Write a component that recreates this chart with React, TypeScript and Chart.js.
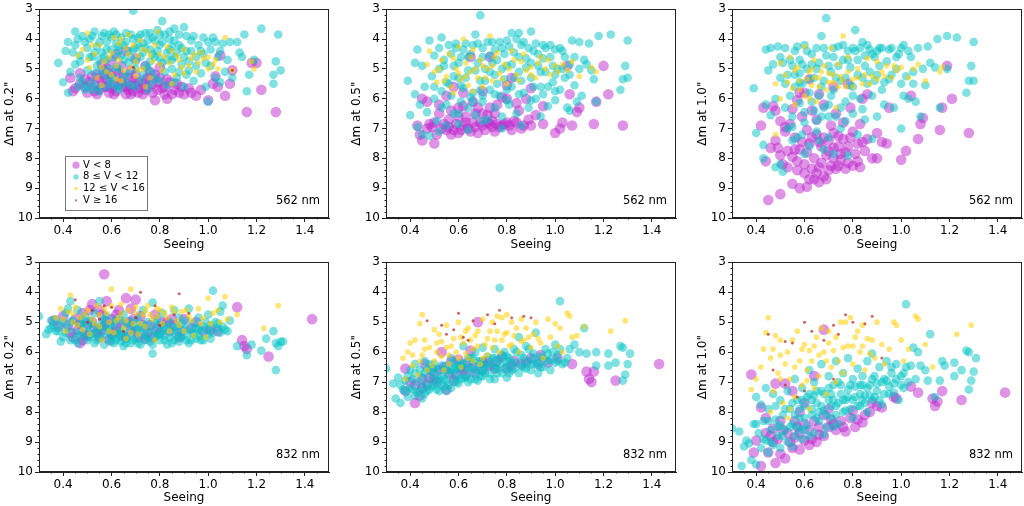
import { useEffect, useRef } from "react";
import Chart from "chart.js/auto";

Chart.defaults.font.family = "DejaVu Sans";

type Pt = [number, number];

const X_MIN = 0.3;
const X_MAX = 1.5;
const Y_MIN = 3;
const Y_MAX = 10;
const X_TICKS = [0.4, 0.6, 0.8, 1.0, 1.2, 1.4];
const X_TICK_LABELS = ["0.4", "0.6", "0.8", "1.0", "1.2", "1.4"];
const Y_TICKS = [3, 4, 5, 6, 7, 8, 9, 10];
const Y_TICK_LABELS = ["3", "4", "5", "6", "7", "8", "9", "10"];
const LEGEND_LABELS = ["V < 8", "8 ≤ V < 12", "12 ≤ V < 16", "V ≥ 16"];

// 562 nm, 0.2"
const p562at02_lt8: Pt[] = [[0.43,5.3],[0.45,5.65],[0.47,5.5],[0.49,5.6],[0.5,5.8],[0.52,5.25],[0.53,5.55],[0.54,5.2],[0.55,5.7],[0.56,5.4],[0.57,5.05],[0.58,5.6],[0.59,5.8],[0.6,5.3],[0.61,5.55],[0.62,5.75],[0.63,5.15],[0.64,5.45],[0.65,5.6],[0.66,5.85],[0.67,5.3],[0.68,5.55],[0.69,5.75],[0.7,5.2],[0.71,5.45],[0.72,5.65],[0.73,5.85],[0.74,5.35],[0.75,5.6],[0.76,5.1],[0.77,5.5],[0.78,6.05],[0.79,5.7],[0.8,5.3],[0.82,5.6],[0.83,6.0],[0.84,5.45],[0.86,5.7],[0.88,5.8],[0.9,5.85],[0.92,5.65],[0.95,5.9],[1.0,6.05],[1.02,5.5],[1.03,5.25],[1.04,5.6],[1.05,4.55],[1.07,5.9],[1.09,5.5],[1.1,5.05],[1.16,6.45],[1.18,4.8],[1.2,4.8],[1.22,5.7],[1.28,6.45],[0.6,4.75],[0.62,4.5],[0.66,4.4],[0.7,4.65],[0.64,4.9],[0.56,4.85],[0.74,4.9],[0.8,4.95],[0.58,5.0],[0.68,5.05],
  [0.51,5.45],[0.53,5.75],[0.55,5.3],[0.57,5.6],[0.59,5.15],[0.61,5.85],[0.63,5.5],[0.65,5.25],[0.67,5.7],[0.69,5.4],[0.71,5.8],[0.73,5.5],[0.75,5.3],[0.77,5.8],[0.79,5.45],[0.81,5.65],[0.83,5.35],[0.85,5.85],[0.87,5.5],[0.54,5.85],[0.58,5.35],[0.62,5.05],[0.66,5.6],[0.7,5.55],[0.74,5.7],[0.78,5.2],[0.82,5.85],[0.89,5.6],[0.93,5.8],[0.97,5.7],[0.47,5.15],[0.49,5.35],[0.44,5.75],[0.6,5.65],[0.68,5.85]];
const p562at02_8to12: Pt[] = [[0.38,4.8],[0.4,5.45],[0.41,4.4],[0.42,5.8],[0.42,4.1],[0.43,5.1],[0.44,4.45],[0.45,3.75],[0.45,4.85],[0.46,4.0],[0.47,5.3],[0.47,4.55],[0.48,3.9],[0.49,5.7],[0.5,4.3],[0.5,5.05],[0.51,4.0],[0.52,4.6],[0.52,5.45],[0.53,3.75],[0.54,4.25],[0.54,4.9],[0.55,5.75],[0.56,3.9],[0.56,4.45],[0.57,5.2],[0.58,4.1],[0.58,4.7],[0.59,3.85],[0.6,5.5],[0.6,4.35],[0.61,3.75],[0.62,4.95],[0.62,4.15],[0.63,5.7],[0.64,3.95],[0.64,4.55],[0.65,5.25],[0.66,4.1],[0.67,4.8],[0.68,3.85],[0.68,5.55],[0.69,3.05],[0.69,4.35],[0.7,5.0],[0.71,3.95],[0.72,4.6],[0.72,5.4],[0.73,4.15],[0.74,3.8],[0.74,4.9],[0.75,5.7],[0.76,4.35],[0.77,3.95],[0.77,5.15],[0.78,4.6],[0.79,3.7],[0.8,4.2],[0.8,5.4],[0.81,3.4],[0.81,4.8],[0.82,3.85],[0.83,4.45],[0.83,5.55],[0.84,4.0],[0.85,5.0],[0.86,3.65],[0.86,4.6],[0.87,5.3],[0.88,4.2],[0.89,4.85],[0.9,3.6],[0.9,5.6],[0.91,4.4],[0.92,5.05],[0.93,4.05],[0.94,5.4],[0.95,4.6],[0.96,4.2],[0.97,5.15],[0.98,4.5],[0.99,5.6],[1.0,4.1],[1.0,6.1],[1.01,4.9],[1.02,3.95],[1.03,5.3],[1.04,4.6],[1.05,5.45],[1.06,4.15],[1.07,5.1],[1.08,4.7],[1.09,4.1],[1.1,5.3],[1.12,4.1],[1.13,4.45],[1.14,4.6],[1.15,3.85],[1.16,5.75],[1.17,5.2],[1.19,4.7],[1.22,3.65],[1.27,5.5],[1.27,5.2],[1.28,4.75],[1.29,3.85],[1.3,5.05],[0.5,5.6],[0.46,5.6],[0.53,5.15],[0.59,5.35],[0.66,5.45],[0.7,4.3],[0.76,4.75],[0.63,4.25],[0.57,4.6],[0.85,4.25],[0.92,4.75],
  [0.45,4.2],[0.47,4.75],[0.48,5.45],[0.49,4.1],[0.51,4.6],[0.52,3.9],[0.53,4.45],[0.54,5.6],[0.55,4.1],[0.55,4.7],[0.56,5.05],[0.57,3.8],[0.58,4.35],[0.59,5.0],[0.6,3.95],[0.61,4.6],[0.61,5.3],[0.62,3.85],[0.63,4.4],[0.63,5.0],[0.64,5.55],[0.65,4.2],[0.65,4.7],[0.66,3.8],[0.67,4.4],[0.67,5.15],[0.68,4.6],[0.69,4.0],[0.7,4.75],[0.7,5.6],[0.71,4.2],[0.72,3.85],[0.73,4.45],[0.73,5.2],[0.74,4.3],[0.75,4.05],[0.75,5.0],[0.76,3.8],[0.77,4.5],[0.78,4.05],[0.78,5.35],[0.79,4.4],[0.8,3.85],[0.8,4.65],[0.81,4.1],[0.82,5.1],[0.83,4.7],[0.84,3.75],[0.84,4.35],[0.85,4.7],[0.86,4.05],[0.87,4.45],[0.88,5.1],[0.88,3.85],[0.89,4.3],[0.9,4.6],[0.91,3.9],[0.91,5.2],[0.93,4.4],[0.94,3.9],[0.95,4.9],[0.97,4.4],[0.98,3.95],[0.99,4.8],[1.01,4.35],[1.03,4.1],[1.05,4.4],[0.52,5.7],[0.58,5.6],[0.62,5.6],[0.76,5.5],[0.86,5.45]];
const p562at02_12to16: Pt[] = [[0.46,4.55],[0.48,4.35],[0.5,3.8],[0.51,4.95],[0.53,4.5],[0.54,5.3],[0.55,4.2],[0.57,4.75],[0.58,5.1],[0.6,4.45],[0.61,3.95],[0.62,5.35],[0.63,4.7],[0.65,5.05],[0.66,4.3],[0.67,3.85],[0.68,4.95],[0.7,5.25],[0.71,4.55],[0.72,4.05],[0.73,5.0],[0.75,4.4],[0.76,5.3],[0.77,4.75],[0.79,3.75],[0.8,4.5],[0.81,5.05],[0.83,4.25],[0.84,4.8],[0.86,5.2],[0.87,4.55],[0.89,4.95],[0.9,4.35],[0.92,4.9],[0.94,4.5],[0.96,4.8],[0.98,4.65],[1.0,5.0],[1.02,4.85],[1.04,5.0],[1.07,3.95],[1.1,5.05],[1.18,4.75],[1.19,5.0],[0.56,5.55],[0.74,5.6],[0.85,5.5],[0.64,4.0],
  [0.5,4.7],[0.52,4.2],[0.56,4.95],[0.59,4.6],[0.6,5.2],[0.63,4.15],[0.64,5.4],[0.67,4.5],[0.69,4.2],[0.71,5.05],[0.73,4.35],[0.76,4.55],[0.78,4.2],[0.8,4.85],[0.82,4.6],[0.85,4.4],[0.88,4.7],[0.9,5.15],[0.93,4.65],[0.95,5.1],[0.97,4.45],[1.0,4.6],[1.03,4.7],[0.62,4.9],[0.7,4.75]];
const p562at02_ge16: Pt[] = [[1.1,5.05],[0.69,4.95]];

// 562 nm, 0.5"
const p562at05_lt8: Pt[] = [[0.45,7.4],[0.5,7.5],[0.44,7.2],[0.43,6.9],[0.48,6.85],[0.5,6.8],[0.53,7.0],[0.55,7.05],[0.57,7.2],[0.6,7.15],[0.62,6.9],[0.64,7.0],[0.66,6.8],[0.68,7.15],[0.7,6.9],[0.72,6.8],[0.74,6.95],[0.76,6.85],[0.78,6.9],[0.8,6.8],[0.82,7.05],[0.84,6.8],[0.87,6.9],[0.89,6.7],[0.9,6.9],[0.92,6.55],[0.95,6.85],[1.0,7.15],[1.02,7.0],[1.03,6.8],[1.07,6.9],[1.1,6.3],[1.09,6.45],[1.16,6.85],[1.17,6.1],[1.22,5.85],[1.28,6.9],[1.2,4.9],[1.05,4.9],[1.06,5.85],[0.95,6.25],[0.88,6.0],[0.82,5.3],[0.78,5.95],[0.73,6.3],[0.7,6.5],[0.66,6.1],[0.62,5.8],[0.6,6.3],[0.58,5.6],[0.55,5.9],[0.52,6.5],[0.47,6.1],[0.45,6.0],[0.65,4.6],[0.73,4.6],[0.6,6.6],[0.56,6.7],[0.67,6.5],[0.75,6.5],[0.85,6.4],[0.9,5.65],[0.8,5.55],[0.7,5.75],
  [0.47,7.0],[0.49,6.95],[0.51,7.2],[0.54,6.85],[0.56,6.95],[0.58,7.05],[0.59,6.85],[0.61,7.05],[0.63,6.8],[0.65,7.1],[0.67,6.95],[0.69,6.8],[0.71,7.05],[0.73,6.85],[0.75,7.1],[0.77,6.95],[0.79,6.85],[0.81,6.9],[0.83,6.75],[0.86,7.0],[0.52,6.2],[0.57,6.4],[0.63,6.6],[0.68,6.3],[0.72,6.55],[0.76,6.2],[0.8,6.0],[0.84,6.15],[0.62,6.25],[0.74,6.75]];
const p562at05_8to12: Pt[] = [[0.39,5.4],[0.4,6.55],[0.42,5.85],[0.42,4.8],[0.43,6.95],[0.43,4.35],[0.44,6.2],[0.45,7.2],[0.45,4.9],[0.46,5.6],[0.47,6.45],[0.48,7.25],[0.48,4.05],[0.49,5.25],[0.5,6.0],[0.5,4.55],[0.51,6.75],[0.52,5.0],[0.53,3.95],[0.53,6.3],[0.54,4.7],[0.55,5.45],[0.55,6.9],[0.56,4.2],[0.57,5.9],[0.58,4.9],[0.58,6.5],[0.59,4.3],[0.6,5.3],[0.61,6.1],[0.61,4.6],[0.62,5.65],[0.63,4.15],[0.64,6.3],[0.64,5.05],[0.65,4.5],[0.66,5.8],[0.67,3.85],[0.67,6.55],[0.68,4.8],[0.69,3.2],[0.69,5.4],[0.7,6.1],[0.7,4.3],[0.71,5.0],[0.72,6.7],[0.73,4.55],[0.73,5.7],[0.74,4.1],[0.75,6.3],[0.75,5.2],[0.76,4.7],[0.77,5.9],[0.78,4.3],[0.78,6.6],[0.79,5.35],[0.8,4.05],[0.8,4.9],[0.81,6.2],[0.82,3.8],[0.82,5.6],[0.83,4.45],[0.84,6.5],[0.85,3.8],[0.85,5.1],[0.86,4.2],[0.87,5.8],[0.88,4.65],[0.89,6.3],[0.9,3.75],[0.9,5.3],[0.91,4.4],[0.92,6.0],[0.93,4.9],[0.94,5.6],[0.95,4.2],[0.96,5.1],[0.97,6.25],[0.98,4.6],[0.99,5.45],[1.0,4.35],[1.0,6.05],[1.01,5.0],[1.02,5.7],[1.03,4.4],[1.04,5.3],[1.05,6.3],[1.06,4.85],[1.07,4.05],[1.08,5.55],[1.09,6.1],[1.1,4.1],[1.11,5.9],[1.12,4.7],[1.13,4.85],[1.14,4.15],[1.15,5.05],[1.16,5.35],[1.17,6.1],[1.18,3.9],[1.23,3.85],[1.27,5.7],[1.28,5.35],[1.29,4.9],[1.3,4.05],[1.3,5.3],[0.86,6.9],[0.78,7.0],[0.64,7.05],[0.52,7.1],[0.6,6.85],[0.7,6.75],[0.94,6.6],[1.06,6.4],
  [0.5,5.6],[0.52,4.3],[0.53,5.75],[0.54,4.9],[0.56,5.5],[0.57,4.5],[0.58,5.25],[0.59,4.15],[0.6,4.8],[0.61,5.55],[0.62,4.35],[0.63,5.3],[0.64,4.6],[0.65,5.95],[0.66,4.2],[0.67,5.05],[0.68,4.15],[0.69,5.7],[0.7,4.6],[0.71,5.4],[0.72,4.1],[0.73,5.1],[0.74,4.8],[0.75,4.35],[0.76,5.5],[0.77,4.1],[0.78,5.0],[0.79,4.5],[0.8,5.7],[0.81,4.25],[0.82,4.85],[0.83,5.3],[0.84,4.0],[0.85,4.6],[0.86,5.4],[0.87,4.1],[0.88,4.95],[0.89,4.3],[0.9,4.8],[0.91,5.6],[0.92,4.15],[0.93,4.5],[0.94,5.1],[0.95,4.65],[0.96,4.3],[0.97,5.6],[0.98,4.2],[0.99,4.9],[1.0,5.2],[1.02,4.3],[1.03,5.0],[1.04,4.6],[1.06,5.2],[1.08,4.6],[1.1,5.0],[0.55,6.2],[0.6,6.5],[0.66,6.1],[0.7,5.9],[0.75,5.85],[0.8,6.05],[0.85,5.85],[0.9,6.05],[0.95,5.85],[1.0,5.75]];
const p562at05_12to16: Pt[] = [[0.47,4.85],[0.48,4.4],[0.5,5.1],[0.51,5.45],[0.53,4.7],[0.55,5.25],[0.56,4.5],[0.57,5.6],[0.59,5.0],[0.6,4.25],[0.61,5.35],[0.62,4.0],[0.63,4.8],[0.64,5.55],[0.65,5.1],[0.66,4.35],[0.68,5.3],[0.69,4.7],[0.7,5.6],[0.72,5.0],[0.73,3.9],[0.74,5.4],[0.75,4.6],[0.77,5.15],[0.79,4.85],[0.8,5.5],[0.82,4.4],[0.84,5.2],[0.86,4.75],[0.88,5.05],[0.9,4.95],[0.92,5.3],[0.94,4.6],[0.96,5.0],[0.98,5.2],[1.0,4.9],[1.03,4.85],[1.05,5.05],[1.07,4.75],[1.1,5.25],[1.15,4.95],[1.17,5.1],[0.58,5.8],[0.66,5.75],
  [0.52,5.0],[0.54,5.4],[0.58,4.65],[0.6,5.15],[0.63,5.25],[0.65,4.6],[0.67,5.0],[0.7,4.9],[0.71,5.3],[0.74,4.9],[0.76,4.45],[0.78,5.35],[0.81,5.0],[0.83,4.7],[0.85,5.4],[0.87,4.5],[0.9,5.2],[0.93,4.8],[0.97,4.7],[1.01,5.1]];
const p562at05_ge16: Pt[] = [];

// 562 nm, 1.0"
const p562at10_lt8: Pt[] = [[0.42,6.9],[0.43,6.3],[0.44,8.1],[0.45,9.4],[0.46,7.65],[0.48,6.4],[0.49,7.65],[0.5,9.2],[0.5,6.75],[0.51,8.2],[0.52,7.1],[0.53,7.75],[0.54,6.85],[0.55,8.85],[0.55,7.95],[0.56,7.3],[0.57,6.05],[0.57,8.4],[0.58,9.0],[0.58,7.7],[0.59,6.6],[0.6,8.2],[0.6,5.8],[0.61,7.05],[0.62,8.7],[0.62,7.5],[0.63,6.4],[0.64,8.0],[0.64,8.7],[0.65,7.2],[0.65,6.7],[0.66,8.3],[0.67,7.6],[0.68,8.6],[0.68,6.2],[0.69,7.9],[0.7,7.4],[0.7,8.4],[0.71,6.9],[0.72,8.0],[0.72,7.65],[0.73,6.5],[0.74,8.25],[0.74,7.25],[0.75,7.85],[0.76,6.8],[0.77,8.35],[0.78,7.6],[0.79,6.3],[0.8,8.25],[0.8,7.1],[0.82,7.5],[0.83,6.85],[0.82,8.1],[0.84,7.45],[0.84,6.0],[0.86,7.35],[0.88,8.0],[0.9,8.0],[0.9,7.15],[0.92,7.45],[0.94,7.5],[1.0,8.05],[1.02,7.75],[1.04,5.9],[1.07,7.35],[1.08,6.85],[1.09,6.65],[1.16,7.05],[1.17,6.3],[1.19,4.9],[1.21,6.0],[1.28,7.15],[0.72,5.6],[0.66,5.85],[0.62,5.35],[0.58,5.8],[0.55,6.35],[0.52,6.95],[0.47,6.25],[0.78,5.5],[0.86,5.85],[0.95,6.3],
  [0.56,7.7],[0.57,8.1],[0.59,7.45],[0.6,8.5],[0.61,7.8],[0.63,8.35],[0.63,7.3],[0.65,8.5],[0.66,7.45],[0.67,8.15],[0.68,7.3],[0.69,8.7],[0.7,7.75],[0.71,8.25],[0.72,7.15],[0.73,8.35],[0.74,7.6],[0.75,8.05],[0.76,7.35],[0.77,7.8],[0.78,8.15],[0.79,7.3],[0.81,7.85],[0.83,8.3],[0.85,7.75],[0.61,8.95],[0.66,8.8],[0.53,8.3],[0.5,7.9],[0.48,7.4]];
const p562at10_8to12: Pt[] = [[0.39,5.65],[0.4,7.15],[0.43,7.55],[0.43,8.0],[0.44,6.2],[0.44,4.35],[0.45,5.05],[0.46,6.55],[0.46,4.3],[0.47,4.85],[0.48,8.3],[0.48,6.0],[0.49,4.25],[0.5,8.2],[0.5,5.3],[0.51,8.45],[0.51,4.8],[0.52,6.3],[0.52,5.5],[0.53,7.0],[0.54,4.7],[0.54,5.9],[0.55,6.6],[0.56,4.4],[0.56,5.2],[0.57,7.3],[0.58,4.7],[0.58,6.15],[0.59,5.5],[0.6,4.2],[0.6,6.8],[0.61,5.0],[0.62,5.8],[0.62,7.6],[0.63,4.5],[0.64,6.4],[0.64,5.3],[0.65,7.1],[0.66,4.8],[0.66,5.9],[0.67,3.9],[0.67,6.6],[0.68,5.4],[0.69,3.3],[0.69,4.55],[0.7,6.2],[0.7,7.3],[0.71,5.1],[0.72,4.3],[0.72,5.7],[0.73,6.6],[0.74,4.9],[0.75,5.4],[0.75,7.0],[0.76,4.2],[0.77,6.1],[0.78,7.9],[0.78,4.7],[0.79,5.55],[0.8,6.5],[0.81,3.7],[0.81,4.4],[0.82,5.2],[0.83,6.0],[0.84,4.1],[0.85,4.9],[0.85,6.7],[0.86,5.5],[0.87,4.35],[0.88,7.35],[0.88,5.9],[0.89,4.6],[0.9,6.6],[0.9,5.2],[0.91,4.3],[0.92,5.7],[0.93,6.2],[0.94,4.75],[0.95,5.35],[0.96,4.3],[0.97,6.3],[0.98,5.0],[0.99,4.5],[1.0,7.0],[1.0,5.5],[1.01,4.2],[1.02,5.25],[1.03,6.0],[1.04,4.6],[1.05,5.1],[1.06,6.1],[1.07,4.3],[1.08,6.6],[1.09,5.0],[1.1,5.55],[1.11,4.25],[1.12,4.8],[1.14,4.95],[1.15,4.0],[1.16,6.3],[1.19,3.9],[1.19,5.0],[1.23,3.95],[1.27,5.8],[1.28,5.4],[1.29,4.9],[1.3,4.1],[1.3,5.4],[0.55,7.4],[0.6,7.85],[0.68,7.7],[0.72,7.85],[0.82,7.2],[0.58,5.15],[0.8,5.9],[0.63,4.85],
  [0.5,4.6],[0.52,4.3],[0.53,5.2],[0.55,4.9],[0.56,5.6],[0.57,4.25],[0.58,5.45],[0.59,4.85],[0.61,4.4],[0.62,5.35],[0.63,6.1],[0.65,4.3],[0.65,5.0],[0.67,5.6],[0.68,4.3],[0.68,6.3],[0.7,4.9],[0.71,5.9],[0.72,4.6],[0.73,5.3],[0.74,4.25],[0.75,6.3],[0.76,4.7],[0.77,5.3],[0.78,4.4],[0.79,4.95],[0.8,4.3],[0.8,5.6],[0.82,4.7],[0.83,4.3],[0.84,5.3],[0.85,4.55],[0.86,4.2],[0.87,5.1],[0.88,4.5],[0.89,5.4],[0.9,4.4],[0.91,4.9],[0.92,4.3],[0.93,5.45],[0.95,4.35],[0.96,5.2],[0.98,4.6],[1.0,4.3],[1.01,5.9],[1.03,4.4],[1.05,5.5],[0.55,6.95],[0.6,6.45],[0.65,6.75],[0.7,6.6],[0.77,6.75],[0.84,6.35],[0.59,7.2],[0.66,7.4]];
const p562at10_12to16: Pt[] = [[0.48,5.5],[0.5,4.8],[0.5,6.0],[0.52,5.2],[0.54,4.6],[0.55,5.65],[0.56,6.2],[0.57,4.95],[0.58,5.4],[0.6,4.25],[0.6,5.9],[0.62,5.1],[0.63,5.55],[0.64,4.7],[0.65,6.1],[0.66,5.3],[0.68,4.9],[0.69,5.7],[0.7,5.15],[0.71,4.3],[0.72,5.45],[0.73,6.3],[0.74,4.85],[0.75,5.25],[0.76,3.9],[0.77,5.6],[0.78,4.6],[0.8,5.35],[0.82,5.0],[0.84,5.5],[0.86,4.65],[0.88,5.25],[0.9,4.75],[0.92,5.1],[0.94,4.9],[0.96,5.3],[0.98,5.05],[1.0,4.95],[1.03,5.3],[1.05,5.0],[1.07,4.85],[1.1,5.4],[1.16,5.1],[1.17,4.95],[0.48,7.2],[0.62,6.0],
  [0.53,5.45],[0.56,5.05],[0.58,5.7],[0.61,5.35],[0.63,5.0],[0.66,5.6],[0.67,5.1],[0.7,5.45],[0.72,5.2],[0.74,5.6],[0.76,5.4],[0.78,5.1],[0.8,5.6],[0.82,5.3],[0.85,5.2],[0.87,5.5],[0.9,5.35],[0.93,5.25],[0.97,4.9],[0.64,5.3]];
const p562at10_ge16: Pt[] = [];

// 832 nm, 0.2"
const p832at02_lt8: Pt[] = [[0.36,4.95],[0.38,5.15],[0.4,4.8],[0.42,5.1],[0.44,5.5],[0.45,4.9],[0.46,5.25],[0.47,5.7],[0.48,4.7],[0.49,5.4],[0.5,5.05],[0.51,4.6],[0.52,4.4],[0.53,5.2],[0.55,5.5],[0.56,4.75],[0.57,3.4],[0.57,5.1],[0.58,4.3],[0.59,5.6],[0.6,4.9],[0.61,5.3],[0.63,4.6],[0.64,5.45],[0.66,4.2],[0.67,5.0],[0.68,4.55],[0.7,4.25],[0.7,5.3],[0.72,4.8],[0.74,5.55],[0.76,5.1],[0.78,4.75],[0.8,5.35],[0.83,5.0],[0.85,4.9],[0.88,5.5],[0.9,4.9],[0.93,5.2],[0.95,5.0],[0.98,5.3],[1.01,5.25],[1.04,5.3],[1.12,4.5],[1.14,5.6],[1.15,5.8],[1.16,5.9],[1.25,6.15],[1.43,4.9],
  [0.43,5.35],[0.47,5.05],[0.5,5.45],[0.52,5.0],[0.54,5.35],[0.56,5.25],[0.58,5.0],[0.6,5.4],[0.62,5.15],[0.64,5.05],[0.66,5.5],[0.68,5.25],[0.69,4.9],[0.71,5.5],[0.73,5.1],[0.75,5.35],[0.77,5.5],[0.79,5.2],[0.81,5.0],[0.84,5.3],[0.86,5.1],[0.89,5.3],[0.55,4.6],[0.62,4.75],[0.48,5.6]];
const p832at02_8to12: Pt[] = [[0.3,4.8],[0.33,5.4],[0.34,5.25],[0.35,4.95],[0.36,5.1],[0.37,4.9],[0.38,5.3],[0.39,5.65],[0.4,5.0],[0.4,5.5],[0.41,4.7],[0.42,5.2],[0.43,4.3],[0.43,5.6],[0.44,4.95],[0.45,5.35],[0.46,4.6],[0.46,5.7],[0.47,5.1],[0.48,5.45],[0.49,4.8],[0.5,5.6],[0.5,5.15],[0.51,4.95],[0.52,5.4],[0.53,5.7],[0.53,4.7],[0.54,5.2],[0.55,4.3],[0.55,5.5],[0.56,5.0],[0.57,5.75],[0.58,5.3],[0.58,4.8],[0.59,5.55],[0.6,5.1],[0.61,5.7],[0.62,4.9],[0.62,5.4],[0.63,5.25],[0.64,5.65],[0.65,4.75],[0.65,5.8],[0.66,5.05],[0.67,5.45],[0.68,5.7],[0.68,4.95],[0.69,5.3],[0.7,5.55],[0.71,4.85],[0.72,5.2],[0.72,5.75],[0.73,4.6],[0.74,5.45],[0.75,5.0],[0.76,5.65],[0.77,4.35],[0.77,6.05],[0.78,5.3],[0.79,4.9],[0.8,5.6],[0.8,5.1],[0.81,4.7],[0.82,5.45],[0.83,5.75],[0.84,5.0],[0.85,5.3],[0.86,4.6],[0.86,5.6],[0.87,5.15],[0.88,4.85],[0.89,5.5],[0.9,5.2],[0.91,4.95],[0.92,5.7],[0.92,4.55],[0.93,5.35],[0.94,5.05],[0.95,5.55],[0.96,4.85],[0.97,5.3],[0.98,5.6],[0.99,5.0],[1.0,4.75],[1.0,5.4],[1.01,5.1],[1.02,3.95],[1.03,5.0],[1.04,5.2],[1.05,4.65],[1.06,4.45],[1.07,5.25],[1.08,5.3],[1.09,4.95],[1.12,5.8],[1.16,6.1],[1.18,5.75],[1.22,5.95],[1.24,5.55],[1.27,5.3],[1.28,5.7],[1.28,6.6],[1.29,5.8],[1.3,5.65],[1.31,5.65],[0.42,4.55],[0.48,5.05],[0.57,5.15],[0.6,5.45],[0.7,5.05],[0.74,5.25],[0.82,5.2],[0.88,5.35],[0.64,5.35],[0.53,5.35],[0.96,5.2],[0.78,5.5],[0.66,5.55],
  [0.35,5.2],[0.37,5.3],[0.39,5.1],[0.41,5.35],[0.43,5.0],[0.45,5.6],[0.47,5.4],[0.48,4.9],[0.5,5.3],[0.51,5.5],[0.52,5.05],[0.54,5.6],[0.55,5.2],[0.56,5.45],[0.57,4.9],[0.59,5.2],[0.6,5.65],[0.61,5.0],[0.63,5.5],[0.64,4.95],[0.65,5.35],[0.66,5.7],[0.67,5.15],[0.69,5.6],[0.7,5.2],[0.71,5.7],[0.72,5.4],[0.73,5.1],[0.75,5.5],[0.76,5.25],[0.77,5.75],[0.78,5.05],[0.79,5.45],[0.81,5.3],[0.82,5.6],[0.83,5.15],[0.84,5.5],[0.85,5.7],[0.86,5.2],[0.87,5.45],[0.88,5.65],[0.89,5.05],[0.9,5.45],[0.91,5.6],[0.92,5.25],[0.93,5.6],[0.94,5.4],[0.95,5.2],[0.96,5.45],[0.97,5.6],[0.98,5.15],[1.0,5.25],[1.01,5.55],[1.02,5.35],[1.04,5.05],[1.05,5.35],[1.06,5.15],[0.62,5.6],[0.74,5.6],[0.8,5.4]];
const p832at02_12to16: Pt[] = [[0.37,4.85],[0.39,4.55],[0.41,5.3],[0.42,4.65],[0.43,4.1],[0.44,5.0],[0.45,4.5],[0.47,4.85],[0.48,5.25],[0.5,4.6],[0.51,5.4],[0.52,4.9],[0.54,4.45],[0.55,5.15],[0.56,5.6],[0.58,4.7],[0.59,5.0],[0.6,3.9],[0.6,4.45],[0.61,5.35],[0.63,4.85],[0.64,4.4],[0.65,5.2],[0.66,5.55],[0.67,4.6],[0.68,3.9],[0.69,5.05],[0.7,4.5],[0.71,5.4],[0.73,4.75],[0.74,5.15],[0.75,4.45],[0.77,4.9],[0.78,5.6],[0.79,4.55],[0.81,5.05],[0.82,4.7],[0.84,5.3],[0.85,4.5],[0.87,4.95],[0.89,4.65],[0.9,5.3],[0.92,4.8],[0.94,5.45],[0.96,4.55],[0.97,5.05],[0.99,5.5],[1.0,4.2],[1.02,4.7],[1.04,4.6],[1.05,5.0],[1.07,4.15],[1.08,4.9],[1.12,4.75],[1.23,5.2],[1.29,4.45],
  [0.4,4.9],[0.44,4.7],[0.46,5.1],[0.49,4.75],[0.53,5.05],[0.55,4.75],[0.57,4.55],[0.59,5.3],[0.62,4.95],[0.64,4.7],[0.66,4.95],[0.68,5.35],[0.7,4.7],[0.72,5.05],[0.74,4.6],[0.76,4.75],[0.79,4.8],[0.8,4.6],[0.83,4.85],[0.86,4.65],[0.88,5.1],[0.91,4.6],[0.93,4.95],[0.98,4.85],[1.01,5.05]];
const p832at02_ge16: Pt[] = [[0.45,4.25],[0.5,5.0],[0.52,4.6],[0.57,4.45],[0.6,4.5],[0.65,5.3],[0.7,4.85],[0.72,4.0],[0.78,4.45],[0.86,4.75],[0.88,4.05],[0.92,4.7],[0.55,4.9],[0.8,5.1]];

// 832 nm, 0.5"
const p832at05_lt8: Pt[] = [[0.38,6.55],[0.38,7.3],[0.4,7.0],[0.42,7.7],[0.44,7.45],[0.45,6.9],[0.46,6.4],[0.47,7.1],[0.48,6.85],[0.5,6.9],[0.52,6.6],[0.53,6.0],[0.55,7.25],[0.56,6.7],[0.57,6.3],[0.58,6.95],[0.6,6.25],[0.62,6.6],[0.63,6.75],[0.65,5.95],[0.66,6.5],[0.68,5.0],[0.7,6.35],[0.72,6.3],[0.75,6.55],[0.78,6.15],[0.8,6.55],[0.83,6.3],[0.86,6.4],[0.9,6.2],[0.94,6.1],[0.97,6.35],[1.01,6.2],[1.07,6.4],[1.13,6.65],[1.14,6.9],[1.15,7.0],[1.16,6.65],[1.25,6.95],[1.43,6.4],
  [0.42,7.1],[0.45,7.2],[0.49,6.6],[0.51,7.0],[0.54,6.5],[0.59,6.75],[0.61,6.5],[0.64,6.35],[0.67,6.7],[0.7,6.6],[0.73,6.45],[0.76,6.3],[0.82,6.45],[0.88,6.35],[0.93,6.4]];
const p832at05_8to12: Pt[] = [[0.3,6.55],[0.33,7.05],[0.34,7.55],[0.35,6.85],[0.36,7.7],[0.37,7.25],[0.38,6.95],[0.39,7.5],[0.4,6.6],[0.4,7.2],[0.41,6.9],[0.42,7.45],[0.42,6.4],[0.43,7.0],[0.44,7.3],[0.44,6.6],[0.45,6.85],[0.46,7.4],[0.46,6.3],[0.47,7.05],[0.48,6.6],[0.48,7.25],[0.49,6.85],[0.5,7.1],[0.5,6.4],[0.51,6.95],[0.52,7.3],[0.52,6.6],[0.53,6.8],[0.54,7.15],[0.55,6.45],[0.55,6.95],[0.56,6.7],[0.57,7.2],[0.57,6.2],[0.58,6.9],[0.59,6.5],[0.6,6.75],[0.6,7.05],[0.61,6.35],[0.62,6.85],[0.62,5.8],[0.63,6.55],[0.64,7.0],[0.64,6.2],[0.65,6.7],[0.66,6.45],[0.67,6.9],[0.67,6.0],[0.68,6.6],[0.69,6.3],[0.7,6.8],[0.7,5.85],[0.71,6.5],[0.72,6.15],[0.73,6.7],[0.74,6.4],[0.75,6.9],[0.75,5.9],[0.76,6.55],[0.77,3.85],[0.77,6.25],[0.78,6.7],[0.79,6.0],[0.8,6.45],[0.8,6.85],[0.81,6.2],[0.82,6.6],[0.83,5.9],[0.84,6.35],[0.85,6.7],[0.85,5.5],[0.86,6.1],[0.87,6.5],[0.88,5.8],[0.89,6.3],[0.9,6.6],[0.91,6.05],[0.92,5.35],[0.92,6.4],[0.93,6.7],[0.94,6.15],[0.95,6.5],[0.96,5.9],[0.97,6.3],[0.98,6.6],[0.99,6.0],[1.0,5.75],[1.0,6.35],[1.01,6.1],[1.02,4.3],[1.02,5.9],[1.03,6.4],[1.04,6.35],[1.05,6.2],[1.06,5.9],[1.08,5.75],[1.1,6.0],[1.12,5.2],[1.13,6.05],[1.17,6.0],[1.17,6.45],[1.22,6.05],[1.22,6.45],[1.25,6.35],[1.27,5.8],[1.28,5.85],[1.28,6.95],[1.29,6.75],[1.3,6.4],[1.31,6.05],[0.45,7.55],[0.55,7.3],[0.5,6.7],[0.6,6.45],[0.7,6.6],[0.8,6.3],[0.65,6.2],[0.75,6.2],[0.58,6.6],[0.68,6.95],
  [0.36,7.1],[0.38,7.3],[0.39,6.8],[0.41,7.25],[0.42,6.7],[0.43,7.35],[0.45,7.15],[0.46,6.7],[0.47,7.3],[0.48,6.4],[0.49,7.15],[0.5,6.55],[0.51,7.25],[0.52,6.9],[0.53,6.45],[0.54,6.9],[0.55,6.6],[0.56,7.1],[0.57,6.6],[0.58,6.35],[0.59,7.0],[0.6,6.55],[0.61,6.9],[0.62,6.4],[0.63,6.85],[0.64,6.5],[0.65,6.9],[0.66,6.2],[0.67,6.6],[0.68,6.3],[0.69,6.8],[0.7,6.4],[0.71,6.7],[0.72,6.4],[0.73,6.9],[0.74,6.2],[0.75,6.5],[0.76,6.7],[0.77,6.4],[0.78,6.1],[0.79,6.55],[0.8,6.15],[0.81,6.7],[0.82,6.35],[0.83,6.55],[0.84,6.0],[0.86,6.45],[0.87,6.2],[0.88,6.55],[0.89,5.9],[0.9,6.4],[0.91,6.2],[0.93,6.35],[0.94,6.5],[0.95,6.2],[0.97,6.05],[0.98,6.25],[1.01,6.3],[0.53,7.1],[0.47,6.55]];
const p832at05_12to16: Pt[] = [[0.37,6.2],[0.38,6.9],[0.39,6.0],[0.4,5.7],[0.41,6.45],[0.42,5.6],[0.43,6.75],[0.44,5.05],[0.45,4.75],[0.45,6.1],[0.46,5.6],[0.47,6.6],[0.48,5.85],[0.5,5.25],[0.5,6.3],[0.51,5.7],[0.52,5.4],[0.53,6.15],[0.54,6.6],[0.55,5.1],[0.55,5.85],[0.56,6.4],[0.58,5.55],[0.59,6.0],[0.6,5.0],[0.61,6.5],[0.62,5.7],[0.63,5.3],[0.64,5.2],[0.64,6.2],[0.66,5.9],[0.67,5.45],[0.68,5.3],[0.69,6.4],[0.7,4.9],[0.71,5.75],[0.72,6.1],[0.73,5.3],[0.74,5.0],[0.75,5.6],[0.76,4.8],[0.77,6.0],[0.78,4.85],[0.79,5.4],[0.8,4.75],[0.81,5.8],[0.82,5.0],[0.83,5.45],[0.85,6.0],[0.86,4.9],[0.87,5.6],[0.88,5.2],[0.9,5.85],[0.91,5.4],[0.92,5.0],[0.94,5.7],[0.95,6.2],[0.97,4.9],[0.98,5.5],[1.0,5.05],[1.01,5.8],[1.02,5.2],[1.03,6.0],[1.05,4.7],[1.06,4.8],[1.07,5.5],[1.09,5.45],[1.12,5.15],[1.23,5.3],[1.29,4.95],
  [0.41,6.1],[0.44,6.3],[0.46,5.9],[0.49,6.45],[0.51,6.0],[0.53,5.65],[0.56,6.1],[0.57,5.8],[0.6,6.2],[0.61,5.5],[0.63,6.05],[0.65,5.6],[0.66,6.3],[0.68,5.8],[0.7,6.2],[0.72,5.55],[0.74,5.85],[0.76,5.3],[0.78,5.6],[0.8,5.35],[0.82,5.75],[0.84,5.2],[0.86,5.65],[0.89,5.5],[0.93,5.55]];
const p832at05_ge16: Pt[] = [[0.47,4.95],[0.53,5.1],[0.55,5.4],[0.58,5.25],[0.6,4.7],[0.62,5.5],[0.66,4.95],[0.72,4.75],[0.75,5.05],[0.77,4.6],[0.82,4.85],[0.87,4.8],[0.9,4.85],[0.64,5.6]];

// 832 nm, 1.0"
const p832at10_lt8: Pt[] = [[0.38,6.75],[0.39,9.35],[0.4,8.95],[0.42,9.8],[0.42,7.85],[0.44,8.2],[0.45,9.35],[0.46,8.8],[0.47,8.55],[0.48,9.7],[0.48,7.05],[0.5,9.4],[0.5,8.3],[0.52,9.55],[0.52,7.05],[0.53,8.7],[0.55,9.2],[0.55,7.3],[0.56,8.3],[0.57,8.5],[0.58,9.25],[0.6,8.95],[0.6,7.7],[0.62,8.6],[0.62,9.1],[0.64,6.8],[0.65,9.0],[0.66,8.75],[0.68,5.25],[0.68,8.1],[0.7,8.5],[0.72,8.4],[0.75,8.3],[0.77,8.65],[0.8,7.95],[0.82,8.25],[0.85,8.1],[0.88,7.7],[0.92,7.85],[0.97,7.5],[0.98,7.55],[1.04,7.15],[1.07,7.35],[1.13,7.55],[1.14,7.8],[1.15,7.65],[1.17,7.3],[1.25,7.6],[1.43,7.35],[0.58,8.0],[0.7,7.9],
  [0.44,8.7],[0.47,9.0],[0.49,8.9],[0.51,8.6],[0.54,9.0],[0.56,8.85],[0.58,8.7],[0.6,8.4],[0.63,8.9],[0.64,8.3],[0.66,8.5],[0.68,8.8],[0.71,8.25],[0.73,8.6],[0.76,8.5],[0.79,8.2],[0.81,8.5],[0.84,8.35],[0.87,8.0],[0.9,7.8]];
const p832at10_8to12: Pt[] = [[0.3,8.55],[0.33,8.65],[0.34,9.8],[0.35,9.15],[0.36,8.95],[0.37,9.05],[0.38,9.6],[0.39,8.4],[0.4,7.5],[0.4,9.75],[0.41,8.7],[0.42,7.75],[0.42,9.2],[0.43,8.3],[0.44,7.2],[0.44,8.95],[0.45,7.9],[0.46,8.6],[0.47,9.1],[0.47,7.4],[0.48,8.25],[0.49,8.8],[0.5,7.6],[0.5,9.2],[0.51,8.1],[0.52,8.6],[0.53,7.3],[0.53,9.0],[0.54,7.9],[0.55,8.4],[0.56,6.9],[0.56,8.8],[0.57,7.6],[0.58,8.2],[0.59,7.2],[0.59,8.9],[0.6,7.8],[0.61,8.45],[0.62,6.6],[0.62,7.4],[0.63,8.1],[0.64,8.7],[0.64,7.0],[0.65,7.7],[0.66,8.3],[0.67,6.4],[0.67,7.3],[0.68,7.95],[0.69,8.5],[0.7,6.8],[0.7,7.6],[0.71,8.2],[0.72,7.1],[0.73,7.8],[0.73,6.3],[0.74,8.4],[0.75,7.4],[0.76,6.7],[0.76,8.0],[0.77,7.6],[0.78,6.2],[0.78,7.25],[0.79,7.9],[0.8,6.9],[0.8,8.2],[0.81,7.5],[0.82,6.55],[0.83,7.1],[0.83,7.8],[0.84,6.8],[0.85,7.45],[0.86,6.3],[0.86,8.0],[0.87,7.1],[0.88,6.05],[0.88,7.6],[0.89,6.8],[0.9,7.3],[0.91,6.5],[0.92,7.75],[0.93,6.9],[0.94,6.3],[0.95,7.4],[0.96,6.7],[0.97,7.05],[0.98,6.4],[0.99,7.6],[1.0,6.8],[1.01,7.2],[1.02,4.4],[1.02,6.5],[1.03,7.0],[1.04,6.45],[1.05,5.85],[1.06,6.9],[1.07,6.0],[1.08,6.45],[1.1,6.6],[1.11,6.95],[1.12,5.4],[1.14,7.5],[1.16,6.95],[1.17,6.3],[1.18,6.45],[1.22,6.35],[1.22,6.8],[1.25,6.6],[1.27,5.95],[1.28,6.0],[1.28,7.25],[1.29,6.95],[1.3,6.65],[1.31,6.2],[0.45,9.35],[0.55,9.15],[0.6,8.6],[0.68,8.75],[0.72,8.5],[0.63,7.6],[0.74,7.0],[0.5,8.45],[0.58,7.9],[0.66,8.0],[0.57,8.5],[0.84,7.6],
  [0.4,8.4],[0.43,8.9],[0.45,8.3],[0.46,9.0],[0.48,7.8],[0.49,8.5],[0.51,8.8],[0.52,7.9],[0.54,8.5],[0.55,7.7],[0.56,8.1],[0.58,8.6],[0.59,7.6],[0.6,8.2],[0.61,7.5],[0.62,8.8],[0.63,7.9],[0.65,8.2],[0.65,7.3],[0.67,7.8],[0.68,7.4],[0.69,8.1],[0.7,7.2],[0.71,7.8],[0.72,7.6],[0.73,8.1],[0.74,7.7],[0.75,7.1],[0.76,7.6],[0.77,7.95],[0.78,7.5],[0.79,7.1],[0.8,7.6],[0.81,7.15],[0.82,7.8],[0.83,7.4],[0.84,7.1],[0.85,7.7],[0.86,7.2],[0.87,7.45],[0.88,6.9],[0.89,7.5],[0.9,7.05],[0.91,7.6],[0.92,7.0],[0.93,7.4],[0.94,6.95],[0.95,7.15],[0.96,6.5],[0.97,7.35],[0.98,6.9],[1.0,7.1],[1.01,6.7],[0.71,7.4],[0.64,7.45]];
const p832at10_12to16: Pt[] = [[0.38,7.25],[0.4,6.9],[0.42,6.5],[0.43,5.9],[0.44,5.35],[0.45,4.85],[0.46,6.2],[0.47,7.3],[0.48,5.45],[0.49,6.7],[0.5,5.6],[0.5,6.1],[0.51,7.7],[0.52,6.4],[0.53,8.2],[0.54,6.9],[0.55,5.6],[0.56,7.5],[0.57,5.3],[0.58,6.3],[0.59,7.1],[0.6,5.75],[0.61,6.6],[0.62,5.95],[0.62,7.9],[0.63,6.3],[0.64,7.2],[0.65,5.5],[0.66,6.8],[0.67,5.2],[0.68,6.0],[0.69,7.4],[0.7,5.7],[0.71,6.5],[0.72,5.95],[0.73,7.0],[0.74,6.3],[0.75,5.0],[0.76,6.7],[0.77,5.0],[0.78,5.8],[0.79,4.85],[0.8,6.4],[0.81,5.5],[0.82,5.3],[0.83,6.0],[0.84,5.1],[0.85,6.6],[0.86,5.55],[0.88,5.6],[0.89,6.2],[0.9,5.0],[0.92,5.75],[0.93,6.4],[0.95,5.9],[0.97,5.0],[0.98,5.1],[1.0,5.6],[1.01,6.3],[1.03,5.9],[1.06,4.8],[1.07,4.9],[1.1,5.75],[1.13,6.5],[1.23,5.4],[1.29,5.1],[0.46,8.0],[0.54,7.9],
  [0.47,5.9],[0.5,6.9],[0.53,6.0],[0.56,6.5],[0.59,5.9],[0.61,6.95],[0.64,5.8],[0.66,6.1],[0.69,6.3],[0.7,5.3],[0.73,5.5],[0.76,5.85],[0.8,5.8],[0.84,5.8],[0.87,6.05]];
const p832at10_ge16: Pt[] = [[0.45,5.4],[0.47,6.6],[0.52,5.65],[0.52,7.1],[0.55,5.7],[0.57,7.5],[0.6,5.0],[0.6,7.3],[0.63,5.3],[0.68,5.6],[0.72,5.1],[0.72,6.9],[0.74,5.4],[0.77,4.75],[0.8,5.0],[0.85,5.05],[0.88,4.8],[0.92,6.2]];

// marker styles per magnitude class: V<8, 8-12, 12-16, >=16
const CLASS_COLORS = ["rgba(190, 40, 205, 0.5)", "rgba(0, 196, 196, 0.5)", "rgba(255, 208, 0, 0.55)", "rgba(185, 35, 35, 0.7)"];
const CLASS_RADIUS = [5.3, 4.3, 2.8, 1.5];
const LEGEND_RADIUS = [3.6, 2.7, 1.8, 1.1];

interface PanelDef {
  left: number;
  top: number;
  padTop: number;
  axisH: number;
  yTitle: string;
  band: string;
  legend: boolean;
  series: Pt[][];
}

const PANELS: PanelDef[] = [
  { left: 0, top: 0, padTop: 7, axisH: 35, yTitle: 'Δm at 0.2"', band: "562 nm", legend: true, series: [p562at02_lt8, p562at02_8to12, p562at02_12to16, p562at02_ge16] },
  { left: 347, top: 0, padTop: 7, axisH: 35, yTitle: 'Δm at 0.5"', band: "562 nm", legend: false, series: [p562at05_lt8, p562at05_8to12, p562at05_12to16, p562at05_ge16] },
  { left: 693, top: 0, padTop: 7, axisH: 35, yTitle: 'Δm at 1.0"', band: "562 nm", legend: false, series: [p562at10_lt8, p562at10_8to12, p562at10_12to16, p562at10_ge16] },
  { left: 0, top: 253, padTop: 6, axisH: 34, yTitle: 'Δm at 0.2"', band: "832 nm", legend: false, series: [p832at02_lt8, p832at02_8to12, p832at02_12to16, p832at02_ge16] },
  { left: 347, top: 253, padTop: 6, axisH: 34, yTitle: 'Δm at 0.5"', band: "832 nm", legend: false, series: [p832at05_lt8, p832at05_8to12, p832at05_12to16, p832at05_ge16] },
  { left: 693, top: 253, padTop: 6, axisH: 34, yTitle: 'Δm at 1.0"', band: "832 nm", legend: false, series: [p832at10_lt8, p832at10_8to12, p832at10_12to16, p832at10_ge16] },
];

const AXIS_COLOR = "#222";
const tickFont = { family: "DejaVu Sans", size: 12 };

function Panel({ def }: { def: PanelDef }) {
  const canvasRef = useRef<HTMLCanvasElement | null>(null);

  useEffect(() => {
    if (!canvasRef.current) return;
    const ctx = canvasRef.current.getContext("2d");
    if (!ctx) return;

    // frame, minor ticks, band label and legend
    const decor = {
      id: "decor",
      afterDraw(chart: any) {
        const c = chart.ctx;
        const a = chart.chartArea;
        const xs = chart.scales.x;
        const ys = chart.scales.y;
        c.save();
        c.strokeStyle = AXIS_COLOR;
        c.lineWidth = 1;
        const l = Math.round(a.left) + 0.5;
        const t = Math.round(a.top) + 0.5;
        const r = Math.round(a.right) - 0.5;
        const b = Math.round(a.bottom) - 0.5;
        c.strokeRect(l, t, r - l, b - t);

        c.beginPath();
        for (let i = 1; i < 35; i++) {
          if (i % 5 === 0) continue;
          const py = Math.round(ys.getPixelForValue(Y_MIN + i * 0.2)) + 0.5;
          c.moveTo(l - 2, py);
          c.lineTo(l, py);
        }
        for (let i = 1; i < 24; i++) {
          if ((i + 2) % 4 === 0) continue;
          const px = Math.round(xs.getPixelForValue(X_MIN + i * 0.05)) + 0.5;
          c.moveTo(px, b);
          c.lineTo(px, b + 2);
        }
        c.stroke();

        c.fillStyle = "#000";
        c.font = "11.5px 'DejaVu Sans'";
        c.textAlign = "right";
        c.textBaseline = "middle";
        c.fillText(def.band, a.right - 9, a.bottom - 17);

        if (def.legend) {
          const bx = a.left + 26;
          const by = a.top + 147;
          c.fillStyle = "#fff";
          c.fillRect(bx, by, 82, 54);
          c.strokeStyle = "#777";
          c.strokeRect(Math.round(bx) + 0.5, Math.round(by) + 0.5, 82, 54);
          c.font = "10px 'DejaVu Sans'";
          c.textAlign = "left";
          LEGEND_LABELS.forEach((label, i) => {
            const cy = by + 9 + i * 11.7;
            c.fillStyle = CLASS_COLORS[i];
            c.beginPath();
            c.arc(bx + 11, cy, LEGEND_RADIUS[i], 0, Math.PI * 2);
            c.fill();
            c.fillStyle = "#000";
            c.fillText(label, bx + 18, cy);
          });
        }
        c.restore();
      },
    };

    const datasets = [3, 2, 1, 0].map((k) => ({
      label: LEGEND_LABELS[k],
      data: def.series[k].map(([x, y]) => ({ x, y })),
      pointRadius: CLASS_RADIUS[k],
      pointBackgroundColor: CLASS_COLORS[k],
      pointBorderWidth: 0,
      pointHoverRadius: CLASS_RADIUS[k],
      showLine: false,
    }));

    const chart = new Chart(ctx, {
      type: "scatter",
      data: { datasets },
      options: {
        animation: false,
        responsive: false,
        events: [],
        layout: { padding: { top: def.padTop, right: 11, left: 0, bottom: 0 } },
        plugins: { legend: { display: false }, tooltip: { enabled: false } },
        scales: {
          x: {
            type: "linear",
            min: X_MIN,
            max: X_MAX,
            afterBuildTicks: (s: any) => {
              s.ticks = X_TICKS.map((v) => ({ value: v }));
            },
            afterFit: (s: any) => {
              s.height = def.axisH;
            },
            ticks: {
              callback: (_v: any, i: number) => X_TICK_LABELS[i],
              font: tickFont,
              color: "#000",
              padding: 2,
              maxRotation: 0,
              autoSkip: false,
            },
            grid: { drawOnChartArea: false, drawTicks: true, tickLength: 4, color: AXIS_COLOR },
            border: { color: AXIS_COLOR },
            title: { display: true, text: "Seeing", font: tickFont, color: "#000", padding: { top: 0, bottom: 1 } },
          },
          y: {
            type: "linear",
            reverse: true,
            min: Y_MIN,
            max: Y_MAX,
            afterBuildTicks: (s: any) => {
              s.ticks = Y_TICKS.map((v) => ({ value: v }));
            },
            afterFit: (s: any) => {
              s.width = 39;
            },
            ticks: {
              callback: (_v: any, i: number) => Y_TICK_LABELS[i],
              font: tickFont,
              color: "#000",
              padding: 2,
              autoSkip: false,
            },
            grid: { drawOnChartArea: false, drawTicks: true, tickLength: 4, color: AXIS_COLOR },
            border: { color: AXIS_COLOR },
            title: { display: true, text: def.yTitle, font: tickFont, color: "#000", padding: { top: 3, bottom: 0 } },
          },
        },
      },
      plugins: [decor],
    });

    return () => chart.destroy();
  }, [def]);

  return (
    <canvas
      ref={canvasRef}
      width={340}
      height={253}
      style={{ position: "absolute", left: def.left, top: def.top, width: 340, height: 253 }}
    />
  );
}

export default function App() {
  return (
    <div
      style={{
        position: "fixed",
        left: 0,
        top: 0,
        width: 1024,
        height: 506,
        overflow: "hidden",
        background: "#fff",
      }}
    >
      {PANELS.map((p, i) => (
        <Panel key={i} def={p} />
      ))}
    </div>
  );
}
